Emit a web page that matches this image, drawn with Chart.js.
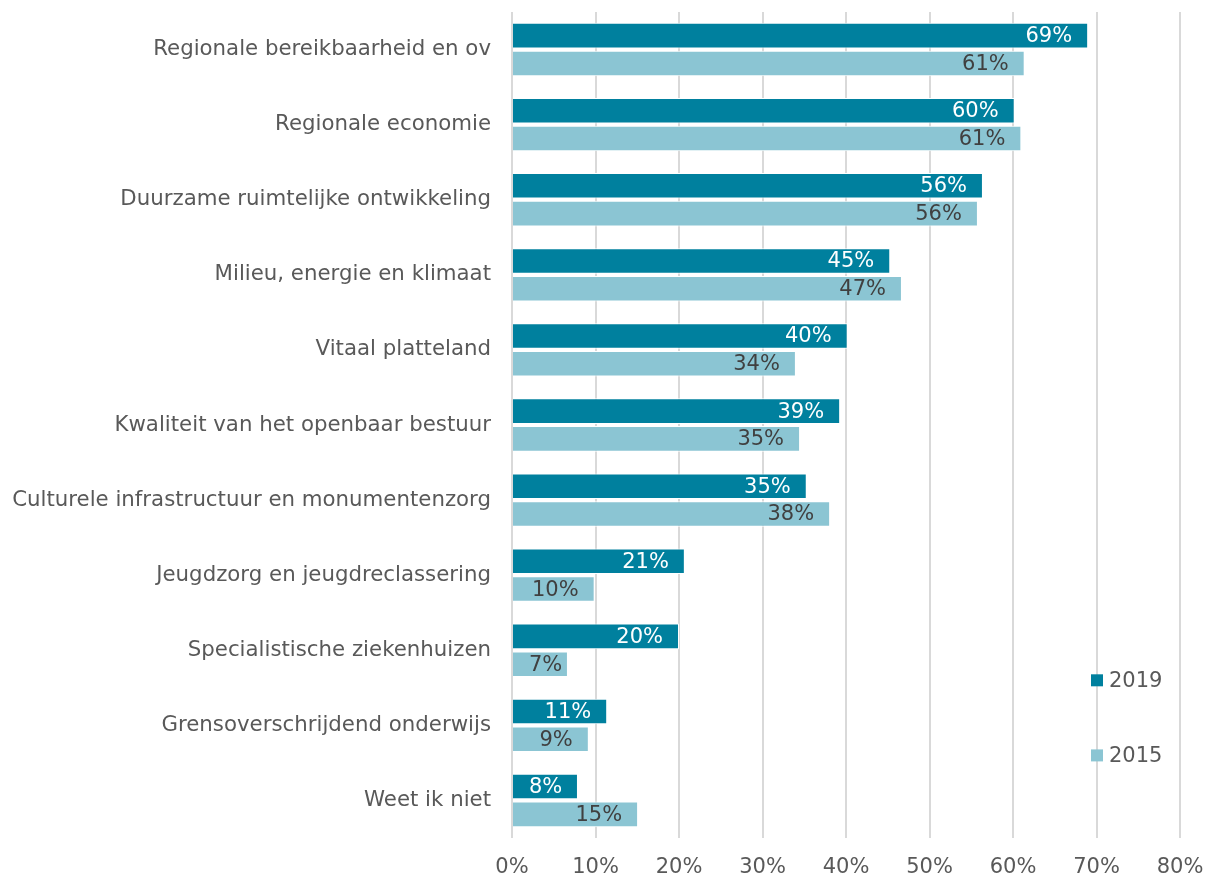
<!DOCTYPE html>
<html>
<head>
<meta charset="utf-8">
<script src="https://cdn.jsdelivr.net/npm/chart.js@4"></script>
<style>
  html, body { margin: 0; padding: 0; background: #fff; overflow: hidden; }
  #wrap { position: relative; width: 1207px; height: 876px; }
  canvas { display: block; }
</style>
</head>
<body>
<div id="wrap"><canvas id="bar_chart"></canvas></div>
<script>
const categories = [
  "Regionale bereikbaarheid en ov",
  "Regionale economie",
  "Duurzame ruimtelijke ontwikkeling",
  "Milieu, energie en klimaat",
  "Vitaal platteland",
  "Kwaliteit van het openbaar bestuur",
  "Culturele infrastructuur en monumentenzorg",
  "Jeugdzorg en jeugdreclassering",
  "Specialistische ziekenhuizen",
  "Grensoverschrijdend onderwijs",
  "Weet ik niet"
];
const values_2019 = [69.0, 60.2, 56.4, 45.3, 40.2, 39.3, 35.3, 20.7, 20.0, 11.4, 7.9];
const values_2015 = [61.4, 61.0, 55.8, 46.7, 34.0, 34.5, 38.1, 9.9, 6.7, 9.2, 15.1];
const series_labels = ["2019", "2015"];
const tick_values = [0, 10, 20, 30, 40, 50, 60, 70, 80];

const chart_colours = ["#00809e", "#8bc5d3"];
const value_colours = ["#ffffff", "#404040"];
const font_family = "'DejaVu Sans', Verdana, sans-serif";
const text_colour = "#595959";

// value labels inside the end of each bar
const barValueLabels = {
  id: "barValueLabels",
  afterDatasetsDraw(chart) {
    const ctx = chart.ctx;
    ctx.save();
    ctx.font = "21px " + font_family;
    ctx.textAlign = "right";
    ctx.textBaseline = "middle";
    chart.data.datasets.forEach((ds, i) => {
      const meta = chart.getDatasetMeta(i);
      meta.data.forEach((bar, j) => {
        const text = Math.round(ds.data[j]) + "%";
        const w = ctx.measureText(text).width;
        const x = Math.max(bar.x - 16, bar.base + 16 + w);
        ctx.fillStyle = value_colours[i];
        ctx.fillText(text, x, bar.y + 1);
      });
    });
    ctx.restore();
  }
};

// legend drawn over the plot, lower right
const overlayLegend = {
  id: "overlayLegend",
  afterDraw(chart) {
    const ctx = chart.ctx;
    const area = chart.chartArea;
    const step = (area.bottom - area.top) / categories.length;
    ctx.save();
    ctx.font = "21px " + font_family;
    ctx.textAlign = "left";
    ctx.textBaseline = "middle";
    chart.data.datasets.forEach((ds, i) => {
      const y = area.bottom - step * 2.1 + i * step;
      const x = area.right - 89;
      ctx.fillStyle = ds.backgroundColor;
      ctx.fillRect(x, y - 6, 12, 12);
      ctx.fillStyle = text_colour;
      ctx.fillText(ds.label, x + 18, y + 1);
    });
    ctx.restore();
  }
};

const ctx = document.getElementById("bar_chart").getContext("2d");

const bar_chart = new Chart(ctx, {
  type: "bar",
  data: {
    labels: categories,
    datasets: [values_2019, values_2015].map((data, i) => ({
      label: series_labels[i],
      data: data,
      backgroundColor: chart_colours[i],
      borderColor: "#ffffff",
      borderWidth: 1,
      barPercentage: 0.92,
      categoryPercentage: 0.74
    }))
  },
  options: {
    indexAxis: "y",
    responsive: true,
    maintainAspectRatio: false,
    animation: false,
    layout: { padding: { top: 12, left: 0, right: 0, bottom: 0 } },
    plugins: {
      legend: { display: false },
      tooltip: { enabled: false }
    },
    scales: {
      x: {
        min: 0,
        max: 80,
        border: { display: false },
        grid: { color: "#d9d9d9", lineWidth: 2, drawTicks: false },
        afterBuildTicks: axis => { axis.ticks = tick_values.map(v => ({ value: v })); },
        afterFit: axis => {
          axis.paddingRight = 27;
          axis.height = 38;
        },
        ticks: {
          padding: 17,
          color: text_colour,
          font: { family: font_family, size: 21 },
          maxRotation: 0,
          callback: value => value + "%"
        }
      },
      y: {
        border: { display: false },
        grid: { display: false, drawTicks: false },
        afterFit: axis => {
          axis.width = 512;
          axis.paddingTop = 0;
          axis.paddingBottom = 0;
        },
        ticks: {
          padding: 21,
          color: text_colour,
          font: { family: font_family, size: 21.3 }
        }
      }
    }
  },
  plugins: [barValueLabels, overlayLegend]
});
</script>
</body>
</html>
